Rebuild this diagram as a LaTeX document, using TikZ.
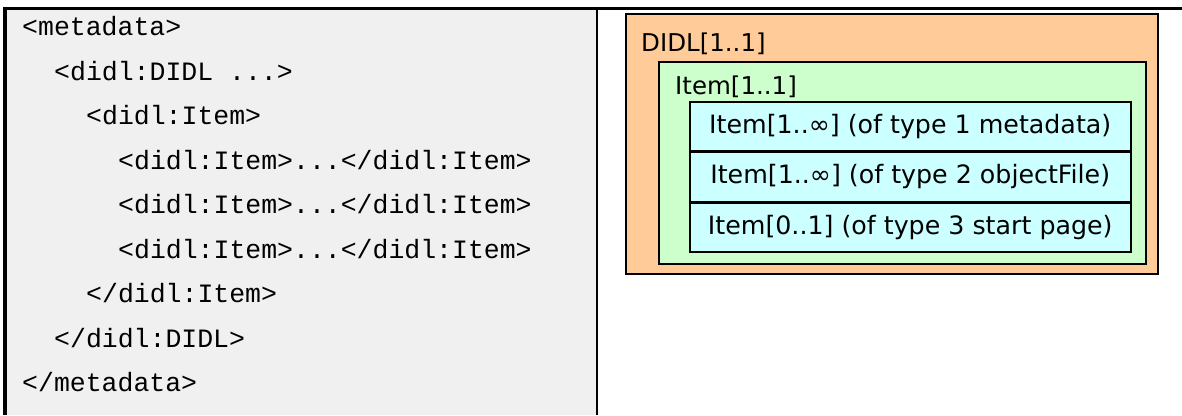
\documentclass[tikz,border=0pt]{standalone}
\usepackage{fontspec}
\setmainfont{DejaVu Sans}
\setmonofont{Liberation Mono}
\usetikzlibrary{positioning}
\definecolor{codecolor}{RGB}{240,240,240}
\definecolor{didlcolor}{RGB}{255,204,153}
\definecolor{itemcolor}{RGB}{204,255,204}
\definecolor{subitemcolor}{RGB}{204,255,255}

\begin{document}
\begin{tikzpicture}[
    x=1pt, y=-1pt,
    code/.style={anchor=base west, inner sep=0pt, font=\ttfamily\fontsize{26.5}{26.5}\selectfont},
    boxlabel/.style={anchor=base west, inner sep=0pt, font=\fontsize{24.5}{24.5}\selectfont},
    didlbox/.style={rectangle, draw, line width=2pt, fill=didlcolor, anchor=north west, inner sep=0pt},
    itembox/.style={rectangle, draw, line width=1.5pt, fill=itemcolor, anchor=north west, inner sep=0pt},
    subitem/.style={rectangle, draw, line width=1.5pt, fill=subitemcolor, inner sep=0pt,
        minimum width=441pt, minimum height=49pt, font=\fontsize{25.3}{25.3}\selectfont}
]
\useasboundingbox (0,0) rectangle (1182,415);

% Code panel
\fill[codecolor] (5,8) rectangle (597,415);
\draw[line width=4pt] (5,7) -- (5,415);
\draw[line width=3pt] (3,8) -- (1182,8);
\draw[line width=2pt] (597,8) -- (597,415);

% XML lines
\node[code] (meta) at (22,35) {<metadata>};
\node[code] (didl) at (54,80) {<didl:DIDL ...>};
\node[code] (item) at (86,124) {<didl:Item>};
\node[code] (sub1) at (118,169) {<didl:Item>...</didl:Item>};
\node[code] (sub2) at (118,213) {<didl:Item>...</didl:Item>};
\node[code] (sub3) at (118,258) {<didl:Item>...</didl:Item>};
\node[code] (itemend) at (86,302) {</didl:Item>};
\node[code] (didlend) at (54,347) {</didl:DIDL>};
\node[code] (metaend) at (22,391) {</metadata>};

% Nested boxes
\node[didlbox, minimum width=532pt, minimum height=260pt] (didlframe) at (625,13) {};
\node[boxlabel] (didllabel) at (641,51) {DIDL[1..1]};
\node[itembox, minimum width=487pt, minimum height=202pt] (itemframe) at (658,61) {};
\node[boxlabel] (itemlabel) at (675,94) {Item[1..1]};

% Child items
\node[subitem, anchor=north west] (meta_item) at (689,101) {Item[1..∞] (of type 1 metadata)};
\node[subitem, below=0pt of meta_item] (object_item) {Item[1..∞] (of type 2 objectFile)};
\node[subitem, below=0pt of object_item] (start_item) {Item[0..1] (of type 3 start page)};

\end{tikzpicture}
\end{document}
